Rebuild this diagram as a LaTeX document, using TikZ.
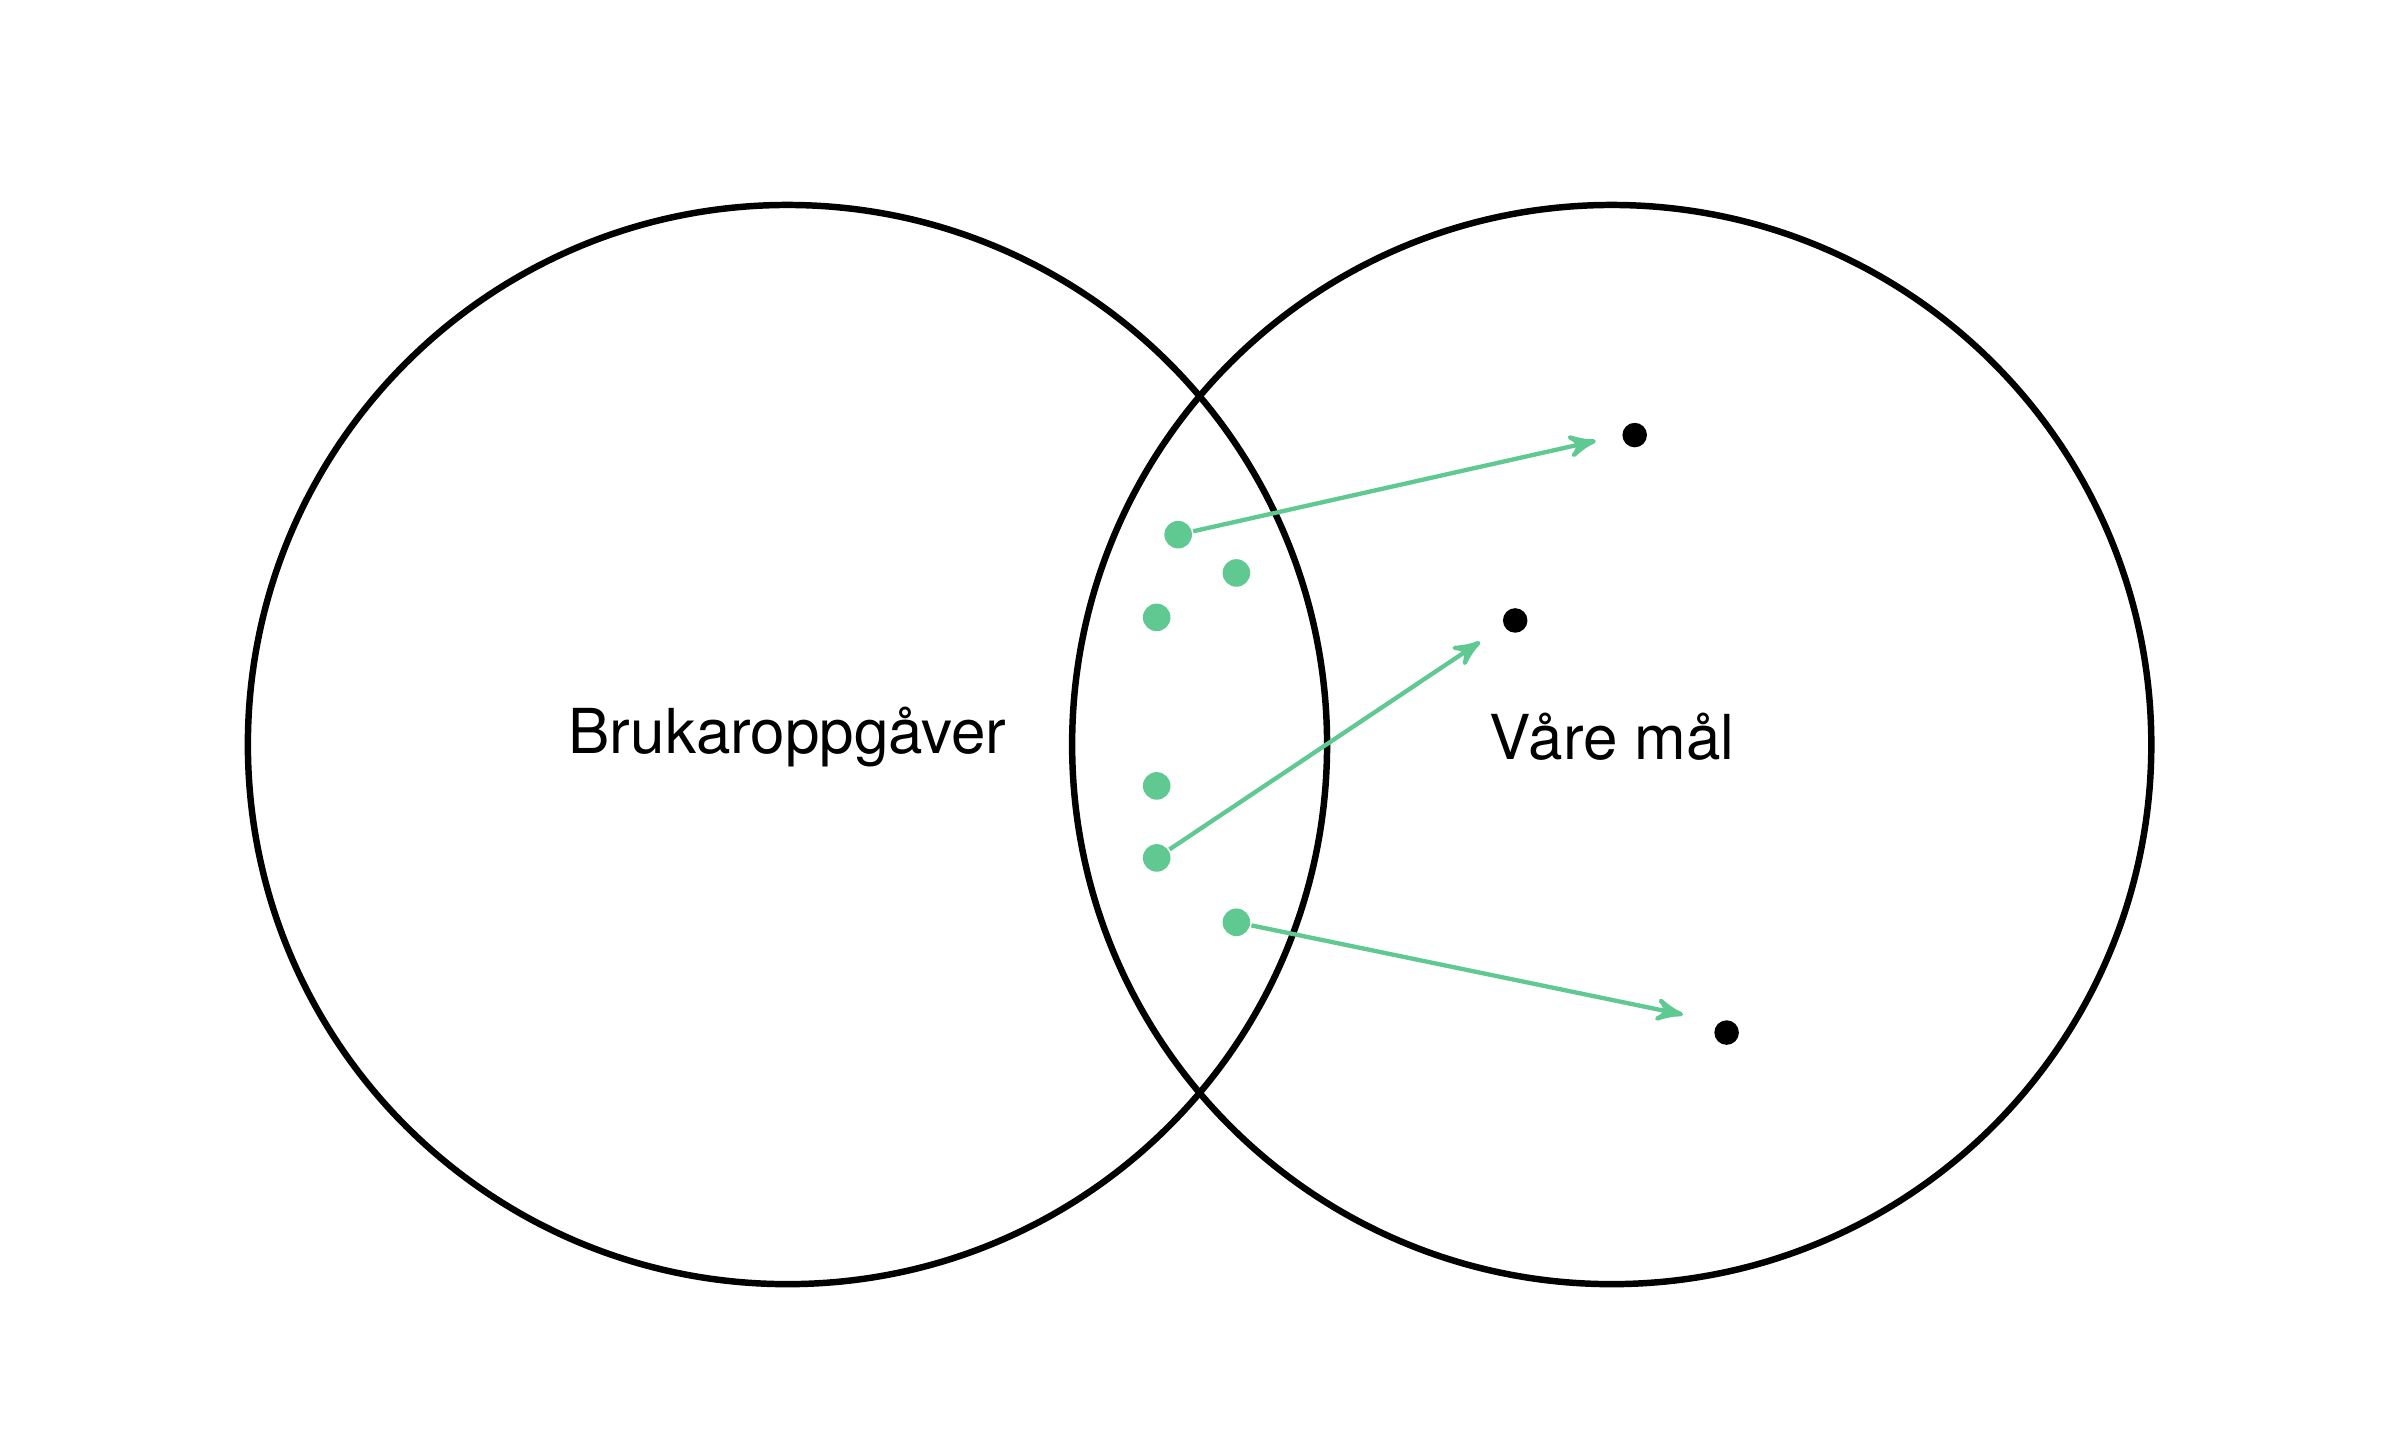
\documentclass[tikz,border=0pt]{standalone}
\usepackage{fontspec}
\setmainfont{TeX Gyre Heros}
\usetikzlibrary{arrows,positioning,calc}
\definecolor{mint}{HTML}{5FC991}

\begin{document}
\begin{tikzpicture}[x=0.01cm, y=0.01cm, >=stealth', semithick]
\tikzstyle{set}=[draw=black, line width=1.2pt, circle, minimum size=7.04cm, inner sep=0pt]
\tikzstyle{task}=[fill=mint, circle, minimum size=0.18cm, inner sep=0pt]
\tikzstyle{goal}=[fill=black, circle, minimum size=0.16cm, inner sep=0pt]
\tikzstyle{link}=[->, draw=mint, line width=0.8pt, shorten >=1pt]
\useasboundingbox (0,0) rectangle (1560,940);
\node[set]    (L)   at (514,454)   {};
\node[set]    (R)   at (1052,454)  {};
\node[font=\fontsize{11.5}{13}\selectfont] (lt) at (514,459) {Brukaroppgåver};
\node[font=\fontsize{11.5}{13}\selectfont] (rt) at (1052,459) {Våre mål};
\node[task]   (t1)  at (769,591)   {};
\node[task]   (t2)  at (807,566)   {};
\node[task]   (t3)  at (755,537)   {};
\node[task]   (t4)  at (755,427)   {};
\node[task]   (t5)  at (755,380)   {};
\node[task]   (t6)  at (807,338)   {};
\node[goal]   (g1)  at (1067,656)  {};
\node[goal]   (g2)  at (989,535)   {};
\node[goal]   (g3)  at (1127,266)  {};
\coordinate   (a1)  at (1045,653);
\coordinate   (a2)  at (969,523);
\coordinate   (a3)  at (1102,277);
\draw[link] (t1) -- (a1);
\draw[link] (t5) -- (a2);
\draw[link] (t6) -- (a3);
\end{tikzpicture}
\end{document}
